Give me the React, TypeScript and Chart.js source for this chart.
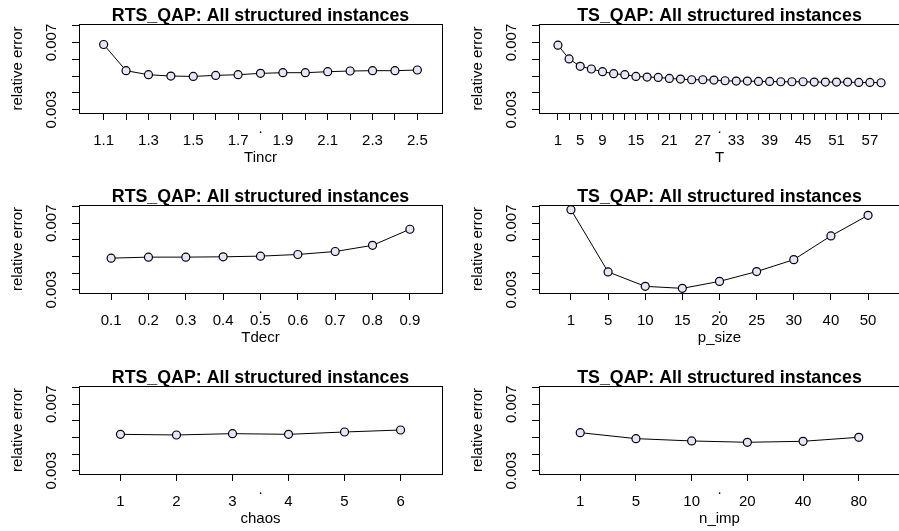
import React, { useEffect, useRef } from 'react';
import { Chart, registerables } from 'chart.js';

Chart.register(...registerables);

const FONT = '"Liberation Sans", Arial, Helvetica, sans-serif';

const TITLE_RTS = 'RTS_QAP: All structured instances';
const TITLE_TS = 'TS_QAP: All structured instances';
const Y_TITLE = 'relative error';

// ---- data ----
const tincrLabels = ['1.1', '1.2', '1.3', '1.4', '1.5', '1.6', '1.7', '1.8', '1.9', '2.0', '2.1', '2.2', '2.3', '2.4', '2.5'];
const tincrShown = ['1.1', '1.3', '1.5', '1.7', '1.9', '2.1', '2.3', '2.5'];
const tincrErr = [0.00688, 0.00532, 0.00508, 0.005, 0.00498, 0.00504, 0.00508, 0.00516, 0.0052, 0.0052, 0.00526, 0.0053, 0.00532, 0.00532, 0.00536];

const tLabels = ['1', '3', '5', '7', '9', '11', '13', '15', '17', '19', '21', '23', '25', '27', '29', '31', '33', '35', '37', '39', '41', '43', '45', '47', '49', '51', '53', '55', '57', '59'];
const tShown = ['1', '5', '9', '15', '21', '27', '33', '39', '45', '51', '57'];
const tErr = [0.00684, 0.00602, 0.00558, 0.00542, 0.00526, 0.00514, 0.00508, 0.00498, 0.00494, 0.00492, 0.00486, 0.00482, 0.00478, 0.00478, 0.00476, 0.00472, 0.0047, 0.0047, 0.00468, 0.00468, 0.00466, 0.00466, 0.00466, 0.00464, 0.00464, 0.00464, 0.00464, 0.00462, 0.00462, 0.0046];

const tdecrLabels = ['0.1', '0.2', '0.3', '0.4', '0.5', '0.6', '0.7', '0.8', '0.9'];
const tdecrErr = [0.0049, 0.00496, 0.00496, 0.00498, 0.00502, 0.00512, 0.0053, 0.00567, 0.00664];

const psizeLabels = ['1', '5', '10', '15', '20', '25', '30', '40', '50'];
const psizeErr = [0.00782, 0.00407, 0.0032, 0.00308, 0.0035, 0.00409, 0.00481, 0.00624, 0.00748];

const chaosLabels = ['1', '2', '3', '4', '5', '6'];
const chaosErr = [0.00519, 0.00515, 0.00523, 0.00519, 0.00533, 0.00545];

const nimpLabels = ['1', '5', '10', '20', '40', '80'];
const nimpErr = [0.00529, 0.00493, 0.00479, 0.00471, 0.00477, 0.00501];

const yTickValues = [0.003, 0.004, 0.005, 0.006, 0.007, 0.008];
const yTickLabelled = [0.003, 0.007];
const Y_MIN = 0.0028;
const Y_MAX = 0.0081;

type Panel = {
  title: string;
  xTitle: string;
  labels: string[];
  values: number[];
  shown: string[] | null;
  col: number;
  row: number;
};

const panels: Panel[] = [
  { title: TITLE_RTS, xTitle: 'Tincr', labels: tincrLabels, values: tincrErr, shown: tincrShown, col: 0, row: 0 },
  { title: TITLE_TS, xTitle: 'T', labels: tLabels, values: tErr, shown: tShown, col: 1, row: 0 },
  { title: TITLE_RTS, xTitle: 'Tdecr', labels: tdecrLabels, values: tdecrErr, shown: null, col: 0, row: 1 },
  { title: TITLE_TS, xTitle: 'p_size', labels: psizeLabels, values: psizeErr, shown: null, col: 1, row: 1 },
  { title: TITLE_RTS, xTitle: 'chaos', labels: chaosLabels, values: chaosErr, shown: null, col: 0, row: 2 },
  { title: TITLE_TS, xTitle: 'n_imp', labels: nimpLabels, values: nimpErr, shown: null, col: 1, row: 2 },
];

// ---- layout ----
const COL_LEFT = [0, 449];
const COL_WIDTH = [449, 462];
const AREA_LEFT = [79, 90];
const AREA_RIGHT = [442, 451];
const ROW_TOP = [0, 177, 354];
const ROW_HEIGHT = 177;
const AREA_TOP = [24, 28, 32];
const AREA_BOTTOM = [113, 116, 120];
const Y_AXIS_W = 70;
const X_AXIS_H = 53.5;

const align = (v: number) => Math.round(v - 0.5) + 0.5;

const makeDecor = (title: string) => ({
  id: 'rDecor',
  afterDraw(chart: any) {
    const { ctx, chartArea: a } = chart;
    ctx.save();
    ctx.strokeStyle = '#000';
    ctx.lineWidth = 1;
    const l = align(a.left);
    const t = align(a.top);
    const r = align(a.right);
    const b = align(a.bottom);
    ctx.strokeRect(l, t, r - l, b - t);
    ctx.fillStyle = '#000';
    ctx.textAlign = 'center';
    ctx.textBaseline = 'alphabetic';
    ctx.font = `bold 17.8px ${FONT}`;
    ctx.fillText(title, (a.left + a.right) / 2, a.top - 3);
    ctx.font = `15px ${FONT}`;
    ctx.fillText('.', (a.left + a.right) / 2, a.bottom + 20);
    ctx.restore();
  },
});

function PanelChart({ p }: { p: Panel }) {
  const ref = useRef<HTMLCanvasElement>(null);
  useEffect(() => {
    if (!ref.current) return;
    const c = p.col;
    const r = p.row;
    const n = p.labels.length;
    const pad = 0.5 + 0.04 * n;
    const pts = p.values.map((v, i) => ({ x: i + 1, y: v }));
    const gridOpts = {
      display: true,
      drawOnChartArea: false,
      drawTicks: true,
      tickLength: 7,
      color: '#000',
      lineWidth: 1,
    };
    const borderOpts = { display: true, color: '#000', width: 1 };
    const chart = new Chart(ref.current, {
      type: 'line',
      data: {
        datasets: [
          {
            data: pts,
            borderColor: '#000',
            borderWidth: 1,
            pointRadius: 4,
            pointBorderWidth: 1.2,
            pointBorderColor: '#000',
            pointBackgroundColor: '#e6e6fb',
            fill: false,
            tension: 0,
          },
          {
            data: pts,
            showLine: false,
            pointRadius: 1.1,
            pointBorderWidth: 0,
            pointBackgroundColor: '#2a2ae6',
          },
        ],
      },
      options: {
        animation: false,
        responsive: false,
        devicePixelRatio: 1,
        events: [],
        layout: {
          padding: {
            left: AREA_LEFT[c] - Y_AXIS_W,
            right: COL_WIDTH[c] - AREA_RIGHT[c],
            top: AREA_TOP[r],
            bottom: ROW_HEIGHT - AREA_BOTTOM[r] - X_AXIS_H,
          },
        },
        plugins: {
          legend: { display: false },
          tooltip: { enabled: false },
          title: { display: false },
        },
        scales: {
          x: {
            type: 'linear',
            min: 1 - pad,
            max: n + pad,
            afterBuildTicks: (s: any) => {
              s.ticks = p.labels.map((_, i) => ({ value: i + 1 }));
            },
            afterFit: (s: any) => {
              s.height = X_AXIS_H;
            },
            ticks: {
              autoSkip: false,
              minRotation: 0,
              maxRotation: 0,
              padding: 12,
              color: '#000',
              font: { family: FONT, size: 15 },
              callback: (v: any) => {
                const lab = p.labels[Math.round(v) - 1];
                if (lab === undefined) return '';
                if (p.shown && !p.shown.includes(lab)) return '';
                return lab;
              },
            },
            grid: gridOpts,
            border: borderOpts,
            title: {
              display: true,
              text: p.xTitle,
              color: '#000',
              font: { family: FONT, size: 15 },
              padding: 0,
            },
          },
          y: {
            type: 'linear',
            min: Y_MIN,
            max: Y_MAX,
            afterBuildTicks: (s: any) => {
              s.ticks = yTickValues.map((v) => ({ value: v }));
            },
            afterFit: (s: any) => {
              s.width = Y_AXIS_W;
            },
            ticks: {
              autoSkip: false,
              minRotation: 90,
              maxRotation: 90,
              crossAlign: 'center',
              padding: 1,
              color: '#000',
              font: { family: FONT, size: 15 },
              callback: (v: any) => (yTickLabelled.includes(v) ? Number(v).toFixed(3) : ''),
            },
            grid: gridOpts,
            border: borderOpts,
            title: {
              display: true,
              text: Y_TITLE,
              color: '#000',
              font: { family: FONT, size: 15 },
              padding: 0,
            },
          },
        },
      } as any,
      plugins: [makeDecor(p.title)],
    });
    return () => chart.destroy();
  }, [p]);
  return (
    <canvas
      ref={ref}
      width={COL_WIDTH[p.col]}
      height={ROW_HEIGHT}
      style={{
        position: 'absolute',
        left: COL_LEFT[p.col],
        top: ROW_TOP[p.row],
        width: COL_WIDTH[p.col],
        height: ROW_HEIGHT,
      }}
    />
  );
}

export default function App() {
  return (
    <div
      style={{
        position: 'absolute',
        left: 0,
        top: 0,
        width: 899,
        height: 531,
        overflow: 'hidden',
        background: '#fff',
      }}
    >
      {panels.map((p, i) => (
        <PanelChart key={i} p={p} />
      ))}
    </div>
  );
}
